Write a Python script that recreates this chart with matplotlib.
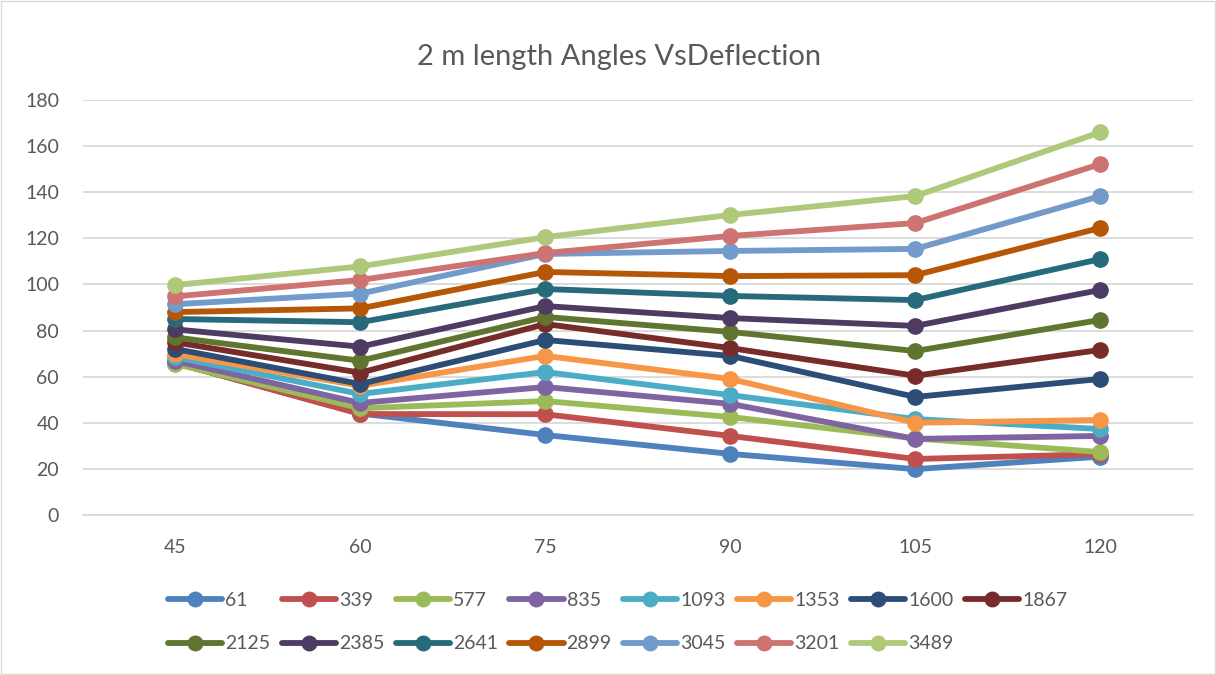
import matplotlib.pyplot as plt

# кути (вісь X)
angles = ["45", "60", "75", "90", "105", "120"]

# назви серій (легенда)
series_names = ["61", "339", "577", "835", "1093", "1353", "1600", "1867",
                "2125", "2385", "2641", "2899", "3045", "3201", "3489"]

# значення прогину для кожної серії
s61 = [66, 44, 34.7, 26.5, 19.9, 25.3]
s339 = [66, 43.8, 43.7, 34.3, 24.3, 26.4]
s577 = [65.5, 46.3, 49.4, 42.5, 33.2, 27.3]
s835 = [66.8, 48.6, 55.5, 48.2, 33.0, 34.3]
s1093 = [68.4, 52.5, 62, 52, 41.6, 37.3]
s1353 = [69.8, 56, 69, 59, 40, 41.2]
s1600 = [72, 56.8, 75.9, 69, 51.2, 59]
s1867 = [74.9, 61.7, 82.8, 72.4, 60.4, 71.6]
s2125 = [77, 66.9, 85.9, 79.4, 71.1, 84.6]
s2385 = [80.5, 73, 90.6, 85.4, 82, 97.6]
s2641 = [85, 83.6, 98, 95, 93.2, 111]
s2899 = [88, 89.6, 105.4, 103.6, 104, 124.5]
s3045 = [91.4, 96, 113.2, 114.5, 115.4, 138.3]
s3201 = [94.8, 101.9, 113.6, 121, 126.6, 152.2]
s3489 = [99.7, 107.8, 120.5, 130.1, 138.3, 166]

all_series = [s61, s339, s577, s835, s1093, s1353, s1600, s1867,
              s2125, s2385, s2641, s2899, s3045, s3201, s3489]

# палітра Excel (Office 2007-2010)
colors = ["#4F81BD", "#C0504D", "#9BBB59", "#8064A2", "#4BACC6", "#F79646",
          "#2C4D75", "#772C2A", "#5F7530", "#4D3B62", "#276A7C", "#B65708",
          "#729ACA", "#CD7371", "#AFC97A"]

plt.rcParams['font.family'] = ['Lato', 'DejaVu Sans']
text_color = "#595959"

fig = plt.figure(figsize=(12.16, 6.75), dpi=100)
ax = fig.add_axes([0.068, 0.237, 0.913, 0.615])

x = list(range(len(angles)))
handles = []
for name, vals, c in zip(series_names, all_series, colors):
    h, = ax.plot(x, vals, color=c, linewidth=4.2, marker='o', markersize=11,
                 label=name, solid_capstyle='round', solid_joinstyle='round')
    handles.append(h)

ax.set_xlim(-0.5, len(angles) - 0.5)
ax.set_ylim(0, 180)
ax.set_yticks(range(0, 181, 20))
ax.set_xticks(x)
ax.set_xticklabels(angles)
ax.grid(axis='y', color='#D9D9D9', linewidth=1.3)
ax.set_axisbelow(True)
for side in ['top', 'right', 'left']:
    ax.spines[side].set_visible(False)
ax.spines['bottom'].set_color('#D9D9D9')
ax.spines['bottom'].set_linewidth(1.3)
ax.tick_params(axis='both', length=0, labelsize=14, colors=text_color)
ax.tick_params(axis='y', pad=17)
ax.tick_params(axis='x', pad=17)

fig.text(0.509, 0.916, "2 m length Angles VsDeflection", ha='center', va='center',
         fontsize=21, color=text_color)

# легенда: 8 колонок однакової ширини, заповнення по рядках як в Excel
order = [0, 8, 1, 9, 2, 10, 3, 11, 4, 12, 5, 13, 6, 14, 7]
fig.legend([handles[i] for i in order], [series_names[i] for i in order],
           ncol=8, loc='center left', bbox_to_anchor=(0.138, 0.078),
           frameon=False, fontsize=14, labelcolor=text_color, handlelength=2.8,
           handletextpad=0.15, columnspacing=0.58, labelspacing=1.35,
           markerscale=0.95, borderaxespad=0, borderpad=0)

# рамка діаграми
fig.patches.append(plt.Rectangle((0.001, 0.001), 0.998, 0.998, transform=fig.transFigure,
                                 fill=False, edgecolor='#D9D9D9', linewidth=1))

fig.savefig("out.png", dpi=100)
